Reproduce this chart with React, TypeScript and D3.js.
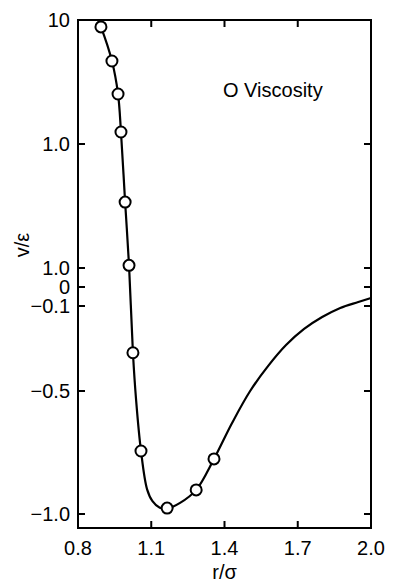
import React, { useEffect, useRef } from 'react';
import * as d3 from 'd3';

// smooth curve through the potential
const curveR = [0.882, 0.894, 0.939, 0.964, 0.976, 0.993, 1.009, 1.025, 1.038, 1.058, 1.083, 1.105, 1.135, 1.165, 1.218, 1.284, 1.357, 1.431, 1.505, 1.579, 1.652, 1.726, 1.8, 1.874, 1.948, 2.0];
const curveV = [10.0, 8.8, 4.67, 2.53, 1.25, 0.34, 0.105, -0.32, -0.537, -0.744, -0.9, -0.948, -0.975, -0.978, -0.955, -0.902, -0.776, -0.63, -0.5, -0.382, -0.284, -0.208, -0.152, -0.109, -0.079, -0.058];

// viscosity points (open circles)
const pointR = [0.894, 0.939, 0.964, 0.976, 0.993, 1.009, 1.025, 1.058, 1.165, 1.284, 1.357];
const pointV = [8.8, 4.67, 2.53, 1.25, 0.34, 0.105, -0.32, -0.744, -0.976, -0.902, -0.776];

const xTicks = [0.8, 1.1, 1.4, 1.7, 2.0];
const xTickLabels = ['0.8', '1.1', '1.4', '1.7', '2.0'];
const yTicks = [10, 1, 0.1, 0, -0.1, -0.5, -1.0];
const yTickLabels = ['10', '1.0', '1.0', '0', '\u22120.1', '\u22120.5', '\u22121.0'];

const FONT = '"Liberation Sans", Arial, Helvetica, sans-serif';

const App = () => {
  const ref = useRef<SVGSVGElement | null>(null);

  useEffect(() => {
    if (!ref.current) return;
    const svg = d3.select(ref.current);
    svg.selectAll('*').remove();

    const left = 78, right = 371, top = 20, bottom = 528;

    const x = d3.scaleLinear().domain([0.8, 2.0]).range([left, right]);
    // broken axis: log part on top, linear part below zero
    const yLog = d3.scaleLog().domain([10, 0.1]).range([top, 268]);
    const yLin = d3.scaleLinear().domain([0.1, 0, -0.1, -0.5, -1.0]).range([268, 287, 306, 391, 514]);
    const y = (v) => (v >= 0.1 ? yLog(v) : yLin(v));

    svg.append('rect')
      .attr('x', left).attr('y', top)
      .attr('width', right - left).attr('height', bottom - top)
      .attr('fill', 'none').attr('stroke', '#000').attr('stroke-width', 2);

    const g = svg.append('g').attr('stroke', '#000').attr('stroke-width', 2);

    yTicks.filter((d) => d !== 10).forEach((d) => {
      g.append('line').attr('x1', left).attr('x2', left + 7).attr('y1', y(d)).attr('y2', y(d));
      g.append('line').attr('x1', right).attr('x2', right - 7).attr('y1', y(d)).attr('y2', y(d));
    });
    xTicks.slice(1, -1).forEach((d) => {
      g.append('line').attr('x1', x(d)).attr('x2', x(d)).attr('y1', top).attr('y2', top + 7);
      g.append('line').attr('x1', x(d)).attr('x2', x(d)).attr('y1', bottom).attr('y2', bottom - 7);
    });

    svg.selectAll('.ylab')
      .data(yTicks)
      .enter()
      .append('text')
      .attr('x', 70)
      .attr('y', (d) => y(d))
      .attr('dy', '0.36em')
      .attr('text-anchor', 'end')
      .style('font-family', FONT)
      .style('font-size', '20px')
      .text((d, i) => yTickLabels[i]);

    svg.selectAll('.xlab')
      .data(xTicks)
      .enter()
      .append('text')
      .attr('x', (d) => x(d))
      .attr('y', 555)
      .attr('text-anchor', 'middle')
      .style('font-family', FONT)
      .style('font-size', '20px')
      .text((d, i) => xTickLabels[i]);

    svg.append('text')
      .attr('x', (left + right) / 2)
      .attr('y', 579)
      .attr('text-anchor', 'middle')
      .style('font-family', FONT)
      .style('font-size', '20px')
      .text('r/\u03c3');

    svg.append('text')
      .attr('transform', 'translate(22,245) rotate(-90)')
      .attr('text-anchor', 'middle')
      .attr('dy', '0.35em')
      .style('font-family', FONT)
      .style('font-size', '20px')
      .text('v/\u03b5');

    svg.append('text')
      .attr('x', 223)
      .attr('y', 97)
      .style('font-family', FONT)
      .style('font-size', '20px')
      .text('O Viscosity');

    const line = d3.line()
      .x((d) => x(d[0]))
      .y((d) => y(d[1]))
      .curve(d3.curveCatmullRom.alpha(0.5));

    svg.append('path')
      .datum(curveR.map((r, i) => [r, curveV[i]]))
      .attr('d', line)
      .attr('fill', 'none')
      .attr('stroke', '#000')
      .attr('stroke-width', 2.2);

    svg.selectAll('.pt')
      .data(pointR.map((r, i) => [r, pointV[i]]))
      .enter()
      .append('circle')
      .attr('cx', (d) => x(d[0]))
      .attr('cy', (d) => y(d[1]))
      .attr('r', 5.5)
      .attr('fill', '#fff')
      .attr('stroke', '#000')
      .attr('stroke-width', 2);
  }, []);

  return (
    <svg
      ref={ref}
      width={393}
      height={584}
      style={{ position: 'absolute', left: 0, top: 0, background: '#fff' }}
    />
  );
};

export default App;
